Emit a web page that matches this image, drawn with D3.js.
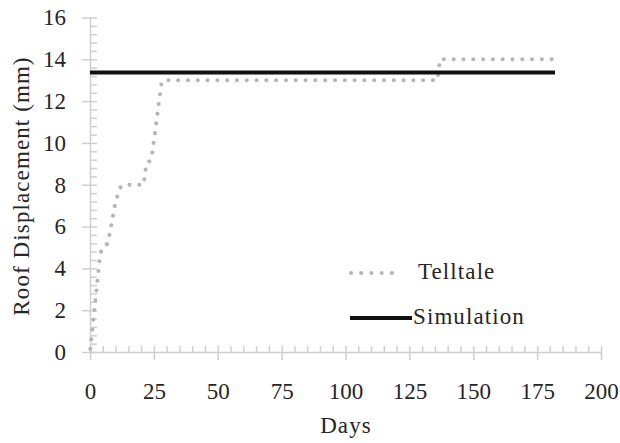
<!DOCTYPE html>
<html>
<head>
<meta charset="utf-8">
<script src="https://cdn.jsdelivr.net/npm/d3@7"></script>
<style>
  body { margin: 0; background: #fff; }
</style>
</head>
<body>
<script>
// telltale readings (days, mm)
var telltaleDays = [0, 4, 5, 7, 10, 12, 14, 21, 22, 24, 26, 28, 29, 136, 137, 181];
var telltaleMm   = [0, 4.7, 5, 5.2, 7.2, 7.9, 8, 8, 9, 9.2, 11, 12.9, 13, 13, 14, 14];
// simulation result
var simDays = [0, 182];
var simMm   = [13.37, 13.37];

var xTicks = [0, 25, 50, 75, 100, 125, 150, 175, 200];
var yTicks = [0, 2, 4, 6, 8, 10, 12, 14, 16];

var width = 620, height = 443;
var axisColor = "#cfcfcf";
var textColor = "#262626";
var serif = "Liberation Serif";

var svg = d3.select("body").append("svg")
  .attr("width", width)
  .attr("height", height);

var x = d3.scaleLinear().domain([0, 200]).range([90, 601]);
var y = d3.scaleLinear().domain([0, 16]).range([352, 17.5]);

// minor ticks first
var xMinor = d3.range(0, 201, 5).filter(function(d) { return d % 25 != 0; });
var yMinor = d3.range(0, 16.01, 0.4).filter(function(d) { return Math.abs(d / 2 - Math.round(d / 2)) > 0.01; });

svg.append("g")
  .attr("transform", "translate(0," + y(0) + ")")
  .call(d3.axisBottom(x).tickValues(xMinor).tickSize(-6).tickFormat(""))
  .call(function(g) { g.select(".domain").remove(); g.selectAll("line").attr("stroke", axisColor).attr("stroke-width", 1.5); });

svg.append("g")
  .attr("transform", "translate(" + x(0) + ",0)")
  .call(d3.axisLeft(y).tickValues(yMinor).tickSize(-7).tickFormat(""))
  .call(function(g) { g.select(".domain").remove(); g.selectAll("line").attr("stroke", axisColor).attr("stroke-width", 1.5); });

// major axes
var xAxis = svg.append("g")
  .attr("transform", "translate(0," + y(0) + ")")
  .call(d3.axisBottom(x).tickValues(xTicks).tickSize(8).tickSizeOuter(0).tickPadding(23));
xAxis.attr("font-family", serif).attr("font-size", 23);
xAxis.selectAll(".tick line").attr("y1", -6);
xAxis.select(".domain").attr("stroke", axisColor).attr("stroke-width", 1.5);
xAxis.selectAll(".tick line").attr("stroke", axisColor).attr("stroke-width", 1.5);
xAxis.selectAll("text")
  .attr("font-family", serif).attr("font-size", 23).attr("fill", textColor);

var yAxis = svg.append("g")
  .attr("transform", "translate(" + x(0) + ",0)")
  .call(d3.axisLeft(y).tickValues(yTicks).tickSize(8).tickSizeOuter(0).tickPadding(16));
yAxis.attr("font-family", serif).attr("font-size", 23);
yAxis.selectAll(".tick line").attr("x1", 7);
yAxis.select(".domain").attr("stroke", axisColor).attr("stroke-width", 1.5);
yAxis.selectAll(".tick line").attr("stroke", axisColor).attr("stroke-width", 1.5);
yAxis.selectAll("text")
  .attr("font-family", serif).attr("font-size", 23).attr("fill", textColor);

// series
var line = d3.line()
  .x(function(d) { return x(d[0]); })
  .y(function(d) { return y(d[1]); });

var telltale = d3.zip(telltaleDays, telltaleMm);
var sim = d3.zip(simDays, simMm);

svg.append("path")
  .datum(telltale)
  .attr("d", line)
  .attr("fill", "none")
  .attr("stroke", "#b5b5b5")
  .attr("stroke-width", 4)
  .attr("stroke-linecap", "round")
  .attr("stroke-dasharray", "0.1 9.7")
  .attr("stroke-dashoffset", -3);

svg.append("path")
  .datum(sim)
  .attr("d", line)
  .attr("fill", "none")
  .attr("stroke", "#111")
  .attr("stroke-width", 4);

// legend
var legend = svg.append("g");
legend.append("line")
  .attr("x1", 351).attr("x2", 402).attr("y1", 273).attr("y2", 273)
  .attr("stroke", "#b5b5b5").attr("stroke-width", 4)
  .attr("stroke-linecap", "round").attr("stroke-dasharray", "0.1 10.1");
legend.append("text").attr("x", 418).attr("y", 279)
  .attr("font-family", serif).attr("fill", textColor)
  .attr("font-size", 23).attr("letter-spacing", 1.1).text("Telltale");
legend.append("line")
  .attr("x1", 350).attr("x2", 412).attr("y1", 318).attr("y2", 318)
  .attr("stroke", "#111").attr("stroke-width", 4);
legend.append("text").attr("x", 413).attr("y", 324)
  .attr("font-family", serif).attr("fill", textColor)
  .attr("font-size", 23).attr("letter-spacing", 1.1).text("Simulation");

// axis titles
svg.append("text")
  .attr("x", 346).attr("y", 433)
  .attr("text-anchor", "middle")
  .attr("font-family", serif).attr("fill", textColor)
  .attr("font-size", 23)
  .attr("letter-spacing", 1.1)
  .text("Days");

svg.append("text")
  .attr("transform", "translate(29,186) rotate(-90)")
  .attr("text-anchor", "middle")
  .attr("font-family", serif).attr("fill", textColor)
  .attr("font-size", 23)
  .attr("letter-spacing", 1.1)
  .text("Roof Displacement (mm)");
</script>
</body>
</html>
